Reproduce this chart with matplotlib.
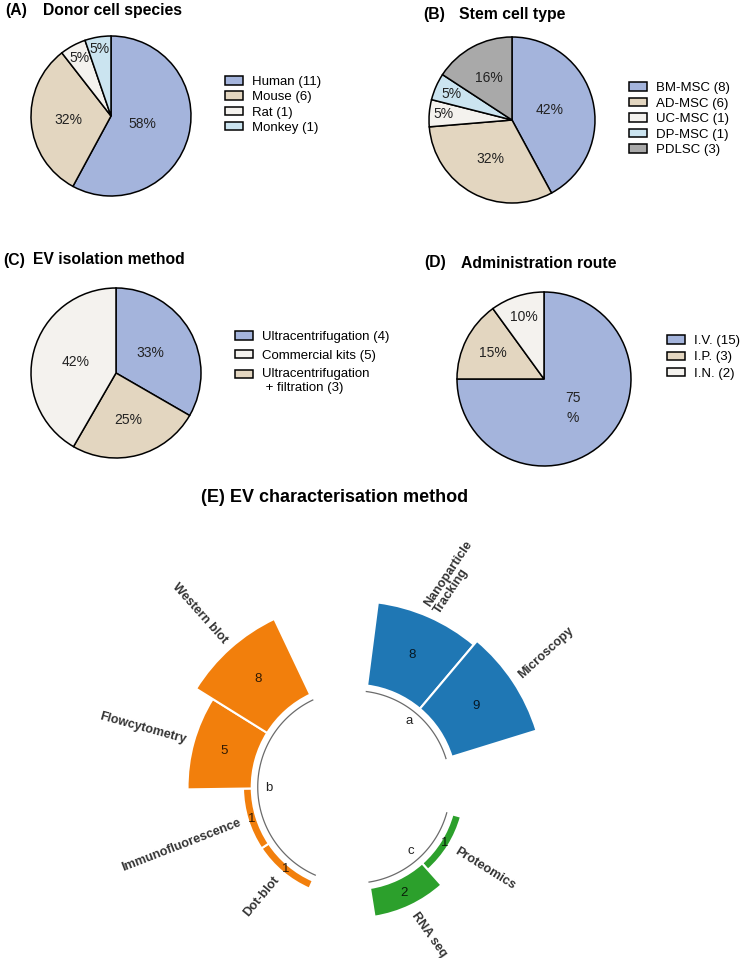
import numpy as np
import matplotlib.pyplot as plt
from matplotlib.patches import Patch

plt.rcParams['font.family'] = ['Liberation Sans', 'DejaVu Sans']

W, H = 750, 958

# (A) donor cell species
species = ['Human', 'Mouse', 'Rat', 'Monkey']
species_n = [11, 6, 1, 1]

# (B) stem cell type
stem_types = ['BM-MSC', 'AD-MSC', 'UC-MSC', 'DP-MSC', 'PDLSC']
stem_n = [8, 6, 1, 1, 3]

# (C) EV isolation method (legend order); wedges are drawn in another order
isolation = ['Ultracentrifugation', 'Commercial kits', 'Ultracentrifugation\n + filtration']
isolation_n = [4, 5, 3]
isolation_wedge_order = [0, 2, 1]

# (D) administration route
routes = ['I.V.', 'I.P.', 'I.N.']
routes_n = [15, 3, 2]

# (E) EV characterisation method
methods = ['Nanoparticle\nTracking', 'Microscopy', 'Proteomics', 'RNA seq',
           'Dot-blot', 'Immunofluorescence', 'Flowcytometry', 'Western blot']
method_n = [8, 9, 1, 2, 1, 1, 5, 8]
method_group = ['a', 'a', 'c', 'c', 'b', 'b', 'b', 'b']
# small extra tilt (deg) of some labels, as laid out in the original figure
label_tilt = [-10, 9, 0, 10, 0, 4, 0, 0]

BLUE = '#a4b4dc'
BEIGE = '#e3d6c0'
WHITE = '#f4f2ee'
LBLUE = '#cbe4f0'
GREY = '#a9a9a9'
group_colors = {'a': '#1f77b4', 'b': '#f27f0c', 'c': '#2ca02c'}

fig = plt.figure(figsize=(W / 100, H / 100), dpi=100)


def px_axes(cx, cy, r, **kw):
    return fig.add_axes([(cx - r) / W, 1 - (cy + r) / H, 2 * r / W, 2 * r / H], **kw)


def draw_pie(cx, cy, r, values, colors, dists, order=None, wrap=()):
    if order is None:
        order = list(range(len(values)))
    ax = px_axes(cx, cy, r * 1.03)
    vals = [values[i] for i in order]
    cols = [colors[i] for i in order]
    wedges, _ = ax.pie(vals, colors=cols, startangle=90, counterclock=False,
                       wedgeprops=dict(edgecolor='black', linewidth=1.1))
    ax.set_xlim(-1.03, 1.03)
    ax.set_ylim(-1.03, 1.03)
    total = float(sum(values))
    for k, (w, v, d) in enumerate(zip(wedges, vals, dists)):
        ang = np.deg2rad((w.theta1 + w.theta2) / 2)
        txt = '%d%%' % round(100 * v / total)
        if k in wrap:
            txt = txt[:-1] + '\n%'
        ax.text(d * np.cos(ang), d * np.sin(ang), txt, ha='center', va='center',
                fontsize=10, color='#222222', linespacing=1.5)
    return ax


def draw_legend(names, counts, colors, x, y, spacing):
    handles = [Patch(facecolor=c, edgecolor='black', linewidth=1.1) for c in colors]
    labels = ['%s (%d)' % (nm, n) for nm, n in zip(names, counts)]
    leg = fig.legend(handles, labels, loc='upper left', bbox_to_anchor=(x / W, 1 - y / H),
                     frameon=False, fontsize=9.5, handlelength=1.35, handleheight=0.6,
                     handletextpad=0.7, labelspacing=spacing, borderpad=0, borderaxespad=0)
    # keep the box level with the first line of a two-line label
    for h, lab in zip(leg.legend_handles, labels):
        if '\n' in lab:
            h.set_y(h.get_y() + 5.2)
    return leg


def panel_title(letter, title, x, xt, y):
    fig.text(x / W, 1 - y / H, letter, fontsize=11.3, fontweight='bold', va='center')
    fig.text(xt / W, 1 - y / H, title, fontsize=11.3, fontweight='bold', va='center')


# ---- pies ----
panel_title('(A)', 'Donor cell species', 5, 43, 10)
draw_pie(111, 116, 80, species_n, [BLUE, BEIGE, WHITE, LBLUE], [0.41, 0.54, 0.82, 0.85])
draw_legend(species, species_n, [BLUE, BEIGE, WHITE, LBLUE], 225, 76, 0.25)

panel_title('(B)', 'Stem cell type', 423, 459, 15)
draw_pie(512, 120, 83, stem_n, [BLUE, BEIGE, WHITE, LBLUE, GREY], [0.47, 0.54, 0.83, 0.79, 0.58])
draw_legend(stem_types, stem_n, [BLUE, BEIGE, WHITE, LBLUE, GREY], 629, 82, 0.27)

panel_title('(C)', 'EV isolation method', 3, 33, 260)
iso_colors = [BLUE, WHITE, BEIGE]
draw_pie(116, 373, 85, isolation_n, iso_colors, [0.46, 0.57, 0.49], order=isolation_wedge_order)
draw_legend(isolation, isolation_n, iso_colors, 235, 331, 0.5)

panel_title('(D)', 'Administration route', 424, 461, 263)
draw_pie(544, 379, 87, routes_n, [BLUE, BEIGE, WHITE], [0.47, 0.66, 0.75], wrap=(0,))
draw_legend(routes, routes_n, [BLUE, BEIGE, WHITE], 667, 335, 0.33)

# ---- circular bar chart ----
fig.text(335 / W, 1 - 498 / H, '(E) EV characterisation method', fontsize=13,
         fontweight='bold', ha='center', va='center')

cx, cy = 354, 787
lin_w = 1.5            # asinh scale: linear near zero, logarithmic further out
px_per_unit = 42.85    # pixels per asinh unit
rmin, rmax = -5.25, 12.5
R = px_per_unit * (np.arcsinh(rmax / lin_w) - np.arcsinh(rmin / lin_w))
ax = px_axes(cx, cy, R, projection='polar')
ax.set_rscale('asinh', linear_width=lin_w)
ax.set_rlim(rmin, rmax)
ax.set_theta_direction(-1)
ax.set_theta_offset(np.pi / 2 + np.deg2rad(9))
ax.set_axis_off()


def shift_r(r, px):
    # radius that lies px pixels further out than r on the asinh scale
    return lin_w * np.sinh(np.arcsinh(r / lin_w) + px / px_per_unit)


group_order = list(dict.fromkeys(method_group))
n_slots = len(methods) + len(group_order)
width = 2 * np.pi / n_slots
slot = {}
pos = 0
for g in group_order:
    pos += 1
    for i, mg in enumerate(method_group):
        if mg == g:
            slot[i] = pos
            pos += 1
theta = np.array([slot[i] * width for i in range(len(methods))])
vals = np.array(method_n, dtype=float)

base = 0.65
ax.bar(theta, vals - base, width=width, bottom=base,
       color=[group_colors[g] for g in method_group], edgecolor='white', linewidth=1.5)

r_arc = shift_r(base, -6)
for g in group_order:
    th = theta[[i for i, mg in enumerate(method_group) if mg == g]]
    t = np.linspace(th.min() - width / 2, th.max() + width / 2, 80)
    ax.plot(t, np.full_like(t, r_arc), color='#6b6b6b', lw=0.9)
    ax.text(th.mean(), 0.05, g, ha='center', va='center', fontsize=9.5, color='#222222')

for th, v, name, tilt in zip(theta, vals, methods, label_tilt):
    mid = lin_w * np.sinh((np.arcsinh(base / lin_w) + np.arcsinh(v / lin_w)) / 2)
    ax.text(th, mid, '%d' % v, ha='center', va='center',
            fontsize=9.5, color='black', alpha=0.8)
    phi = (99 - np.rad2deg(th) + 180) % 360 - 180
    if -90 < phi < 90:
        rot, ha = phi, 'left'
    else:
        rot, ha = (phi - 180 if phi > 0 else phi + 180), 'right'
    gap = 6.0
    ax.annotate(name, (th, v), xytext=(gap * np.cos(np.deg2rad(phi)), gap * np.sin(np.deg2rad(phi))),
                textcoords='offset points', rotation=rot + tilt, rotation_mode='anchor',
                ha=ha, va='center', fontsize=9.1, fontweight='bold', color='#333333',
                linespacing=1.0, annotation_clip=False)

fig.savefig('out.png', dpi=100)
